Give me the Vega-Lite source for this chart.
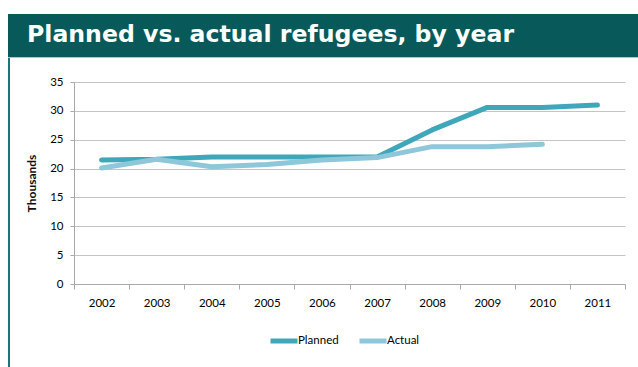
{
  "$schema": "https://vega.github.io/schema/vega-lite/v6.json",
  "padding": {"left": 8, "top": 14, "right": 0, "bottom": 0},
  "background": "white",
  "spacing": 0,
  "vconcat": [
    {
      "width": 630,
      "height": 43,
      "view": {"fill": "#07595A", "stroke": null},
      "data": {"values": [{"label": "Planned vs. actual refugees, by year"}]},
      "mark": {"type": "text", "align": "left", "baseline": "alphabetic", "font": "DejaVu Sans", "fontWeight": "bold", "fontSize": 23.6, "color": "white"},
      "encoding": {
        "text": {"field": "label"},
        "x": {"value": 19},
        "y": {"value": 28}
      }
    },
    {
      "width": 630,
      "height": 1,
      "view": {"fill": "#A9CACA", "stroke": null},
      "data": {"values": []},
      "mark": "point",
      "encoding": {}
    },
    {
      "spacing": 15,
      "resolve": {"scale": {"color": "independent"}, "legend": {"color": "independent"}},
      "hconcat": [
        {
          "width": 2,
          "height": 309,
          "view": {"fill": "#1B7775", "stroke": null},
          "data": {"values": []},
          "mark": "point",
          "encoding": {}
        },
        {
          "spacing": 0,
          "resolve": {"scale": {"color": "independent"}, "legend": {"color": "independent"}},
          "vconcat": [
            {
              "width": 551,
              "height": 18,
              "view": {"stroke": null},
              "data": {"values": []},
              "mark": "point",
              "encoding": {}
            },
            {
              "width": 551,
              "height": 202,
              "view": {"stroke": null},
              "data": {
                "values": [
                  {"year": "2002", "series": "Planned", "value": 21.5},
                  {"year": "2003", "series": "Planned", "value": 21.6},
                  {"year": "2004", "series": "Planned", "value": 22.0},
                  {"year": "2005", "series": "Planned", "value": 22.0},
                  {"year": "2006", "series": "Planned", "value": 22.0},
                  {"year": "2007", "series": "Planned", "value": 22.0},
                  {"year": "2008", "series": "Planned", "value": 26.7},
                  {"year": "2009", "series": "Planned", "value": 30.6},
                  {"year": "2010", "series": "Planned", "value": 30.6},
                  {"year": "2011", "series": "Planned", "value": 31.0},
                  {"year": "2002", "series": "Actual", "value": 20.1},
                  {"year": "2003", "series": "Actual", "value": 21.6},
                  {"year": "2004", "series": "Actual", "value": 20.3},
                  {"year": "2005", "series": "Actual", "value": 20.7},
                  {"year": "2006", "series": "Actual", "value": 21.5},
                  {"year": "2007", "series": "Actual", "value": 21.9},
                  {"year": "2008", "series": "Actual", "value": 23.8},
                  {"year": "2009", "series": "Actual", "value": 23.8},
                  {"year": "2010", "series": "Actual", "value": 24.2}
                ]
              },
              "mark": {"type": "line", "strokeWidth": 5, "strokeCap": "round", "strokeJoin": "round"},
              "encoding": {
                "x": {
                  "field": "year",
                  "type": "ordinal",
                  "scale": {"type": "band", "paddingInner": 0, "paddingOuter": 0},
                  "axis": {
                    "title": null,
                    "labelAngle": 0,
                    "tickBand": "extent",
                    "grid": false,
                    "domainColor": "#a9a9a9",
                    "tickColor": "#a9a9a9",
                    "tickSize": 5,
                    "labelPadding": 8,
                    "labelFont": "Lato",
                    "labelFontSize": 11.5,
                    "labelColor": "#000000"
                  }
                },
                "y": {
                  "field": "value",
                  "type": "quantitative",
                  "scale": {"domain": [0, 35], "nice": false},
                  "axis": {
                    "title": "Thousands",
                    "values": [0, 5, 10, 15, 20, 25, 30, 35],
                    "grid": true,
                    "gridColor": "#c4c4c4",
                    "gridWidth": 1.2,
                    "domainColor": "#a9a9a9",
                    "tickColor": "#a9a9a9",
                    "tickSize": 4,
                    "labelPadding": 7,
                    "labelFont": "Lato",
                    "labelFontSize": 11.5,
                    "labelColor": "#000000",
                    "titleFont": "Lato",
                    "titleFontSize": 12,
                    "titleFontWeight": "bold",
                    "titleColor": "#111111",
                    "titlePadding": 11
                  }
                },
                "color": {
                  "field": "series",
                  "type": "nominal",
                  "scale": {"domain": ["Planned", "Actual"], "range": ["#3EA7BA", "#8DC7D9"]},
                  "legend": {
                    "title": null,
                    "orient": "none",
                    "legendX": 194,
                    "legendY": 243,
                    "direction": "horizontal",
                    "symbolType": "stroke",
                    "symbolSize": 729,
                    "symbolStrokeWidth": 5,
                    "labelOffset": -2,
                    "columnPadding": 10,
                    "labelFont": "Lato",
                    "labelFontSize": 11.5,
                    "labelColor": "#000000"
                  }
                }
              }
            }
          ]
        }
      ]
    }
  ]
}
